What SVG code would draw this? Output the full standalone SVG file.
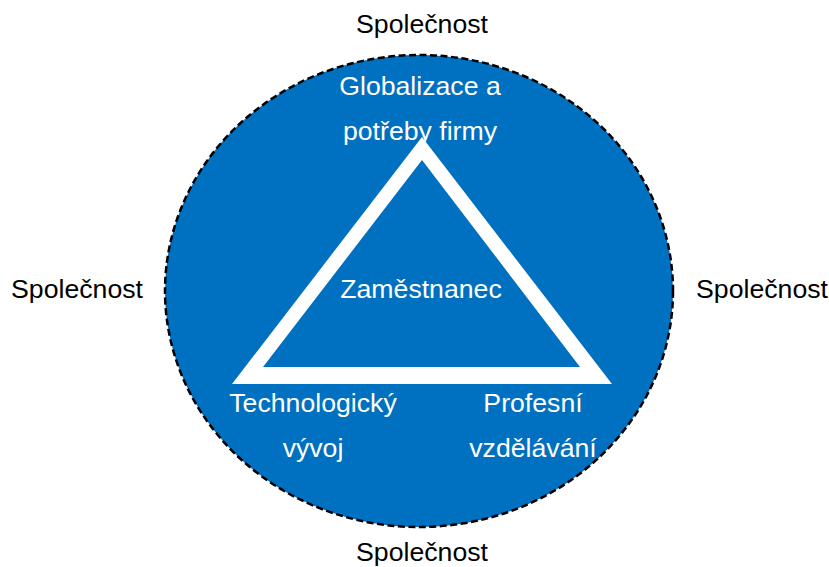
<svg xmlns="http://www.w3.org/2000/svg" width="829" height="567" viewBox="0 0 829 567">
<style>
.t{font-family:"Liberation Sans",Arial,sans-serif;font-size:26.67px;text-anchor:middle}
.w{fill:#ffffff}
.b{fill:#000000}
</style>
<rect width="829" height="567" fill="#ffffff"/>
<g id="circle">
<ellipse cx="419" cy="291" rx="254" ry="236" fill="#0070C0" stroke="#000000" stroke-width="2.5" stroke-dasharray="7,3.5"/>
</g>
<g id="triangle">
<path d="M422,137 L612,384 L232,384 Z M422,160 L263,367 L580,367 Z" fill="#ffffff" fill-rule="evenodd"/>
</g>
<g id="globalizace">
<text class="t w" x="420" y="95">Globalizace a</text>
<text class="t w" x="420" y="140">potřeby firmy</text>
</g>
<g id="zamestnanec">
<text class="t w" x="421" y="298">Zaměstnanec</text>
</g>
<g id="technologicky">
<text class="t w" x="313" y="412">Technologický</text>
<text class="t w" x="313" y="457">vývoj</text>
</g>
<g id="profesni">
<text class="t w" x="533" y="412">Profesní</text>
<text class="t w" x="533" y="457">vzdělávání</text>
</g>
<g id="spolecnost-top"><text class="t b" x="422" y="33">Společnost</text></g>
<g id="spolecnost-left"><text class="t b" x="77" y="298">Společnost</text></g>
<g id="spolecnost-right"><text class="t b" x="762" y="298">Společnost</text></g>
<g id="spolecnost-bottom"><text class="t b" x="422" y="561">Společnost</text></g>
<g id="connectors"></g>
</svg>
